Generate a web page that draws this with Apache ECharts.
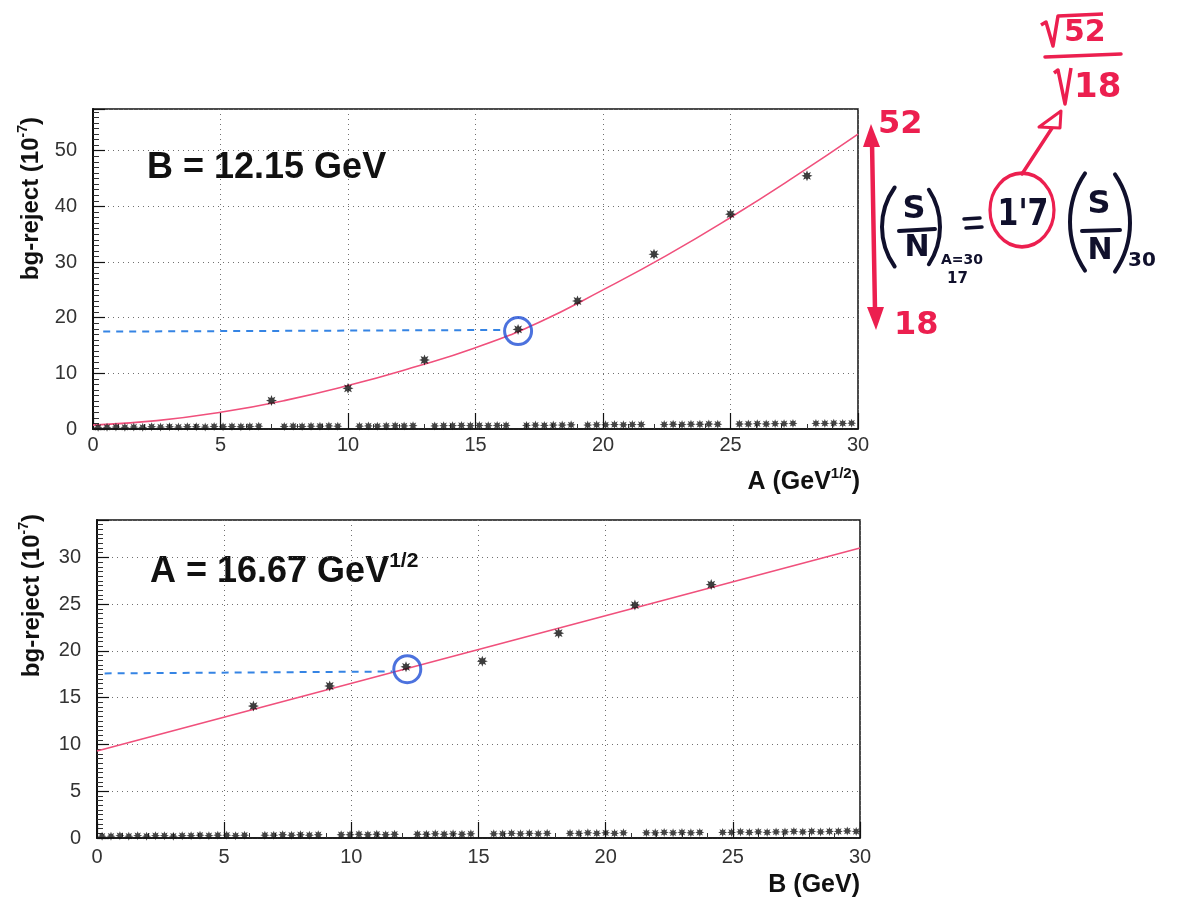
<!DOCTYPE html>
<html>
<head>
<meta charset="utf-8">
<script src="https://cdn.jsdelivr.net/npm/echarts/dist/echarts.min.js"></script>
<style>
  html, body { margin: 0; padding: 0; background: #ffffff; }
  #chart { width: 1183px; height: 898px; }
</style>
</head>
<body>
<div id="chart"></div>
<script>
// ---- upper panel: bg-reject versus A at B = 12.15 GeV ----
const topA = [7, 10, 13, 16.67, 19, 22, 25, 28];
const topReject = [5.1, 7.3, 12.4, 17.9, 23.0, 31.4, 38.6, 45.5];
const topFit = [[0, 0.7], [2.5, 1.5], [5, 3.0], [7.5, 5.1], [10, 7.8], [12.5, 11.0], [15, 14.6],
                [17.5, 19.2], [20, 25.0], [22.5, 31.2], [25, 38.0], [27.5, 45.3], [30, 53.0]];
const topGuide = [[0.4, 17.5], [16.2, 17.8]];
const topPick = [[16.67, 17.6]];
const topFloor = [[0.2,0.3],[0.55,0.3],[0.9,0.35],[1.25,0.3],[1.6,0.35],[1.95,0.3],[2.3,0.4],[2.65,0.35],[3.0,0.4],[3.35,0.35],
  [3.7,0.4],[4.05,0.4],[4.4,0.35],[4.75,0.45],[5.1,0.4],[5.45,0.45],[5.8,0.4],[6.15,0.45],[6.5,0.5],
  [7.5,0.45],[7.85,0.5],[8.2,0.45],[8.55,0.5],[8.9,0.5],[9.25,0.55],[9.6,0.5],
  [10.45,0.5],[10.8,0.55],[11.15,0.5],[11.5,0.55],[11.85,0.6],[12.2,0.55],[12.55,0.6],
  [13.4,0.55],[13.75,0.6],[14.1,0.6],[14.45,0.65],[14.8,0.6],[15.15,0.65],[15.5,0.6],[15.85,0.65],[16.2,0.65],
  [17.0,0.65],[17.35,0.7],[17.7,0.65],[18.05,0.7],[18.4,0.7],[18.75,0.75],
  [19.4,0.7],[19.75,0.75],[20.1,0.75],[20.45,0.8],[20.8,0.75],[21.15,0.8],[21.5,0.8],
  [22.4,0.8],[22.75,0.85],[23.1,0.8],[23.45,0.85],[23.8,0.85],[24.15,0.9],[24.5,0.85],
  [25.35,0.9],[25.7,0.9],[26.05,0.95],[26.4,0.9],[26.75,0.95],[27.1,0.95],[27.45,1.0],
  [28.35,1.0],[28.7,1.0],[29.05,1.05],[29.4,1.0],[29.75,1.05]];
const topYTicks = [0, 10, 20, 30, 40, 50];

// ---- lower panel: bg-reject versus B at A = 16.67 GeV^1/2 ----
const botB = [6.15, 9.15, 12.15, 15.15, 18.15, 21.15, 24.15];
const botReject = [14.1, 16.25, 18.3, 18.9, 21.9, 24.9, 27.1];
const botFit = [[0, 9.3], [30, 31.0]];
const botGuide = [[0.3, 17.6], [11.6, 17.8]];
const botPick = [[12.2, 18.05]];
const botFloor = [[0.2,0.2],[0.55,0.2],[0.9,0.25],[1.25,0.2],[1.6,0.25],[1.95,0.2],[2.3,0.25],[2.65,0.25],[3.0,0.2],[3.35,0.25],
  [3.7,0.25],[4.05,0.3],[4.4,0.25],[4.75,0.3],[5.1,0.3],[5.45,0.25],[5.8,0.3],
  [6.6,0.3],[6.95,0.3],[7.3,0.35],[7.65,0.3],[8.0,0.35],[8.35,0.3],[8.7,0.35],
  [9.6,0.35],[9.95,0.35],[10.3,0.4],[10.65,0.35],[11.0,0.4],[11.35,0.35],[11.7,0.4],
  [12.6,0.4],[12.95,0.4],[13.3,0.45],[13.65,0.4],[14.0,0.45],[14.35,0.4],[14.7,0.45],
  [15.6,0.45],[15.95,0.45],[16.3,0.5],[16.65,0.45],[17.0,0.5],[17.35,0.45],[17.7,0.5],
  [18.6,0.5],[18.95,0.5],[19.3,0.55],[19.65,0.5],[20.0,0.55],[20.35,0.5],[20.7,0.55],
  [21.6,0.55],[21.95,0.55],[22.3,0.6],[22.65,0.55],[23.0,0.6],[23.35,0.55],[23.7,0.6],
  [24.6,0.6],[24.95,0.6],[25.3,0.65],[25.65,0.6],[26.0,0.65],[26.35,0.6],[26.7,0.65],[27.05,0.65],
  [27.4,0.7],[27.75,0.65],[28.1,0.7],[28.45,0.65],[28.8,0.7],[29.15,0.7],[29.5,0.75],[29.85,0.7]];
const botYTicks = [0, 5, 10, 15, 20, 25, 30];
const xTicks = [0, 5, 10, 15, 20, 25, 30];

const FONT = 'Liberation Sans';
const HAND = 'DejaVu Sans';
const RED = '#ec1f4f';
const INK = '#10102c';
const FIT = '#f0507c';
const GUIDE = '#3584e4';
const RING = '#1f4fd6';
const STAR = 'path://M5,0L2.4,1L3.54,3.54L1,2.4L0,5L-1,2.4L-3.54,3.54L-2.4,1L-5,0L-2.4,-1L-3.54,-3.54L-1,-2.4L0,-5L1,-2.4L3.54,-3.54L2.4,-1Z';

function pairs(xs, ys) { return xs.map((x, i) => [x, ys[i]]); }

function xAxisFor(gridIndex, margin) {
  return {
    type: 'value', gridIndex, min: 0, max: 30, interval: 5,
    axisLine: { show: true, lineStyle: { color: '#111', width: 1.5 } },
    axisTick: { show: true, inside: true, length: 16, lineStyle: { color: '#111', width: 1.2 } },
    minorTick: { show: true, splitNumber: 5, length: 5, lineStyle: { color: '#333' } },
    splitLine: { show: true, lineStyle: { type: [1, 4], color: '#707070', width: 1 } },
    axisLabel: {
      fontFamily: FONT, fontSize: 20, color: '#333', margin,
      formatter: v => (xTicks.indexOf(v) >= 0 ? String(v) : '')
    }
  };
}

function yAxisFor(gridIndex, max, interval, ticks) {
  return {
    type: 'value', gridIndex, min: 0, max, interval,
    axisLine: { show: true, lineStyle: { color: '#111', width: 2 } },
    axisTick: { show: true, inside: true, length: 12, lineStyle: { color: '#111', width: 1.2 } },
    minorTick: { show: true, splitNumber: 10, length: 6, lineStyle: { color: '#333' } },
    splitLine: { show: true, lineStyle: { type: [1, 4], color: '#707070', width: 1 } },
    axisLabel: {
      fontFamily: FONT, fontSize: 20, color: '#333', margin: 16,
      formatter: v => (ticks.indexOf(v) >= 0 ? String(v) : '')
    }
  };
}

function panelSeries(idx, fit, smooth, pts, floor, guide, pick) {
  return [
    { type: 'line', xAxisIndex: idx, yAxisIndex: idx, data: fit, smooth, showSymbol: false,
      lineStyle: { color: FIT, width: 1.6 }, z: 3 },
    { type: 'scatter', xAxisIndex: idx, yAxisIndex: idx, data: floor, symbol: STAR, symbolSize: 9,
      itemStyle: { color: '#141414' }, z: 4 },
    { type: 'line', xAxisIndex: idx, yAxisIndex: idx, data: guide, showSymbol: false,
      lineStyle: { color: GUIDE, width: 2, type: [7, 6] }, z: 4 },
    { type: 'scatter', xAxisIndex: idx, yAxisIndex: idx, data: pts, symbol: STAR, symbolSize: 11,
      itemStyle: { color: '#0c0c0c' }, z: 5 },
    { type: 'scatter', xAxisIndex: idx, yAxisIndex: idx, data: pick, symbol: 'circle', symbolSize: 27,
      itemStyle: { color: 'rgba(0,0,0,0)', borderColor: RING, borderWidth: 3 }, z: 6 }
  ];
}

const sup = (size) => ({ fontFamily: FONT, fontSize: size, fontWeight: 'bold', fill: '#111', verticalAlign: 'top', lineHeight: size });
const main = (size) => ({ fontFamily: FONT, fontSize: size, fontWeight: 'bold', fill: '#111', lineHeight: size + 6 });

function txt(x, y, text, size, color, align, extra) {
  return Object.assign({ type: 'text', x, y, z: 20,
    style: { text, fontFamily: HAND, fontSize: size, fontWeight: 'bold', fill: color,
             align: align || 'center', verticalAlign: 'middle' } }, extra || {});
}
function seg(x1, y1, x2, y2, color, w) {
  return { type: 'line', z: 20, shape: { x1, y1, x2, y2 }, style: { stroke: color, lineWidth: w, lineCap: 'round' } };
}
function paren(cx, cy, r, mid, half, w) {
  return { type: 'arc', z: 20, shape: { cx, cy, r, startAngle: mid - half, endAngle: mid + half, clockwise: true },
           style: { stroke: INK, lineWidth: w, fill: 'none', lineCap: 'round' } };
}

const graphics = [
  // panel titles
  { type: 'text', x: 147, y: 168, style: { text: 'B = 12.15 GeV', fontFamily: FONT, fontSize: 36, fontWeight: 'bold',
      fill: '#111', align: 'left', verticalAlign: 'middle' } },
  { type: 'text', x: 150, y: 572, style: { text: '{m|A = 16.67 GeV}{s|1/2}', align: 'left', verticalAlign: 'middle',
      rich: { m: main(36), s: sup(21) } } },
  // axis names
  { type: 'text', x: 31, y: 117, rotation: Math.PI / 2, style: { text: '{m|bg-reject (10}{s|-7}{m|)}',
      align: 'right', verticalAlign: 'middle', rich: { m: main(24), s: sup(14) } } },
  { type: 'text', x: 32, y: 514, rotation: Math.PI / 2, style: { text: '{m|bg-reject (10}{s|-7}{m|)}',
      align: 'right', verticalAlign: 'middle', rich: { m: main(24), s: sup(14) } } },
  { type: 'text', x: 860, y: 482, style: { text: '{m|A (GeV}{s|1/2}{m|)}', align: 'right', verticalAlign: 'middle',
      rich: { m: main(25), s: sup(15) } } },
  { type: 'text', x: 860, y: 885, style: { text: 'B (GeV)', fontFamily: FONT, fontSize: 25, fontWeight: 'bold',
      fill: '#111', align: 'right', verticalAlign: 'middle' } },

  // hand-written range marker 18 .. 52
  seg(872, 142, 875, 310, RED, 4.5),
  { type: 'polygon', z: 20, shape: { points: [[871, 124], [863, 147], [880, 147]] }, style: { fill: RED } },
  { type: 'polygon', z: 20, shape: { points: [[876, 330], [867, 307], [884, 307]] }, style: { fill: RED } },
  txt(878, 125, '52', 32, RED, 'left'),
  txt(894, 326, '18', 32, RED, 'left'),

  // (S/N)_{A=30, 17} = 1'7 (S/N)_30
  paren(950, 227, 68, Math.PI, 0.62, 4),
  paren(872, 227, 68, 0, 0.58, 4),
  txt(914, 210, 'S', 32, INK),
  seg(899, 231, 935, 229, INK, 4),
  txt(917, 248, 'N', 30, INK),
  txt(941, 260, 'A=30', 14, INK, 'left'),
  txt(947, 279, '17', 15, INK, 'left'),
  seg(964, 219, 980, 218, INK, 3.5),
  seg(966, 228, 982, 227, INK, 3.5),
  { type: 'circle', z: 20, x: 1022, y: 210, scaleY: 1.15, shape: { cx: 0, cy: 0, r: 32 },
    style: { stroke: RED, lineWidth: 3.2, fill: 'none' } },
  txt(1023, 215, "1'7", 30, INK, 'center', { scaleY: 1.25 }),
  paren(1156, 222, 86, Math.PI, 0.6, 4),
  paren(1044, 223, 86, 0, 0.6, 4),
  txt(1099, 205, 'S', 32, INK),
  seg(1082, 231, 1120, 230, INK, 4),
  txt(1100, 251, 'N', 30, INK),
  txt(1128, 261, '30', 20, INK, 'left'),

  // arrow to sqrt(52)/sqrt(18)
  seg(1022, 174, 1056, 122, RED, 3.5),
  { type: 'polygon', z: 20, shape: { points: [[1061, 111], [1039, 127], [1060, 128]] },
    style: { stroke: RED, lineWidth: 3, fill: '#ffffff', lineJoin: 'round' } },
  { type: 'polyline', z: 20, shape: { points: [[1041, 25], [1046, 22], [1053, 46], [1058, 16], [1103, 14]] },
    style: { stroke: RED, lineWidth: 3.5, fill: 'none', lineJoin: 'round' } },
  txt(1064, 33, '52', 30, RED, 'left'),
  seg(1045, 57, 1121, 54, RED, 3.5),
  { type: 'polyline', z: 20, shape: { points: [[1054, 73], [1058, 70], [1065, 104], [1071, 68]] },
    style: { stroke: RED, lineWidth: 3.5, fill: 'none', lineJoin: 'round' } },
  txt(1074, 88, '18', 34, RED, 'left')
];

const option = {
  animation: false,
  backgroundColor: '#ffffff',
  grid: [
    { left: 93, right: 325, top: 109, bottom: 469, show: true, borderColor: '#111', borderWidth: 1.5, backgroundColor: 'transparent' },
    { left: 97, right: 323, top: 520, bottom: 60, show: true, borderColor: '#111', borderWidth: 1.5, backgroundColor: 'transparent' }
  ],
  xAxis: [xAxisFor(0, 6), xAxisFor(1, 9)],
  yAxis: [yAxisFor(0, 57.5, 10, topYTicks), yAxisFor(1, 34, 5, botYTicks)],
  series: [
    ...panelSeries(0, topFit, true, pairs(topA, topReject), topFloor, topGuide, topPick),
    ...panelSeries(1, botFit, false, pairs(botB, botReject), botFloor, botGuide, botPick)
  ],
  graphic: graphics
};

const chart = echarts.init(document.getElementById('chart'), null, { renderer: 'canvas' });
chart.setOption(option);
</script>
</body>
</html>
